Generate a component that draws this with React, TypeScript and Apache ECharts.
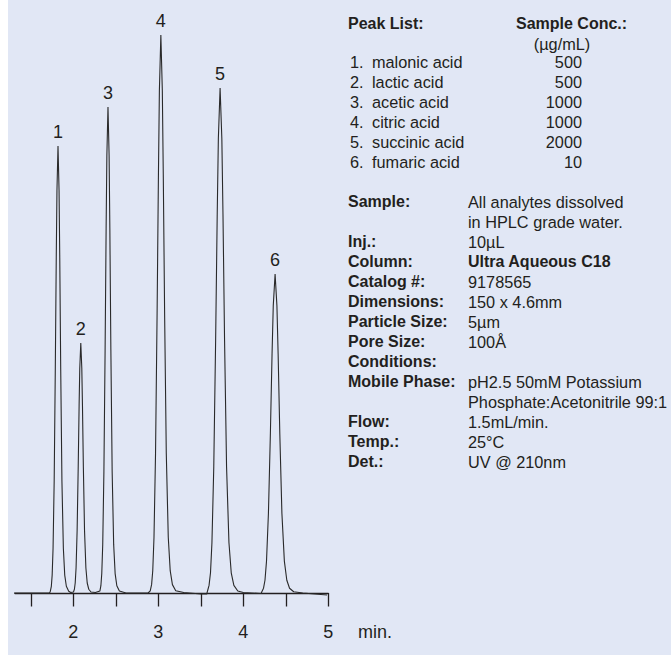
import React, { useEffect, useRef } from "react";
import * as echarts from "echarts";

// ---- Chromatogram data ----
// retention time (min) and apex response (arbitrary units) of each peak
const peakNumbers = ["1", "2", "3", "4", "5", "6"];
const peakTimes = [1.82, 2.088, 2.408, 3.03, 3.727, 4.374];
const peakHeights = [447, 250, 486, 558, 505, 319];
// fraction of apex height at which each peak's half-widths were read
const profileLevels = [0.9, 0.75, 0.5, 0.25, 0.1, 0.04, 0.015, 0.004];
// half-widths (min) on the leading (left) and tailing (right) side at those levels
const halfWidthsLeft = [
  [0.0124, 0.0206, 0.0319, 0.0451, 0.0582, 0.0688, 0.0785, 0.09],
  [0.0119, 0.0197, 0.0305, 0.0431, 0.0556, 0.0657, 0.0751, 0.086],
  [0.0132, 0.0219, 0.0339, 0.048, 0.0618, 0.0731, 0.0835, 0.0956],
  [0.0173, 0.0285, 0.0443, 0.0626, 0.0807, 0.0954, 0.109, 0.125],
  [0.0205, 0.0339, 0.0526, 0.0744, 0.0959, 0.113, 0.13, 0.148],
  [0.0216, 0.0357, 0.0554, 0.0784, 0.101, 0.119, 0.136, 0.156],
];
const halfWidthsRight = [
  [0.0124, 0.0206, 0.0319, 0.0461, 0.0629, 0.0791, 0.0981, 0.126],
  [0.0119, 0.0197, 0.0305, 0.044, 0.0601, 0.0756, 0.0938, 0.12],
  [0.0132, 0.0219, 0.0339, 0.049, 0.0668, 0.0841, 0.104, 0.134],
  [0.0173, 0.0285, 0.0443, 0.0639, 0.0872, 0.11, 0.136, 0.175],
  [0.0205, 0.0339, 0.0526, 0.076, 0.104, 0.131, 0.162, 0.208],
  [0.0216, 0.0357, 0.0554, 0.0801, 0.109, 0.138, 0.17, 0.219],
];
// baseline between the peaks (min, response)
const baselineTimes = [1.255, 1.5, 1.72, 1.97, 2.26, 2.62, 2.88, 3.3, 3.5, 3.57, 4.0, 4.21, 4.7, 4.985];
const baselineValues = [0, 0, 0, 0.5, 0.5, 0, 0, 0.5, -1, -1, 0.5, -0.5, 0, -2];

// axis
const tickValues = [1.5, 2, 2.5, 3, 3.5, 4, 4.5, 5];
const tickLabelValues = [2, 3, 4, 5];
const axisUnit = "min.";

// ---- Peak list ----
const peakListTitle = "Peak List:";
const concTitle = "Sample Conc.:";
const concUnit = "(µg/mL)";
const peakNumberLabels = ["1.", "2.", "3.", "4.", "5.", "6."];
const peakNames = ["malonic acid", "lactic acid", "acetic acid", "citric acid", "succinic acid", "fumaric acid"];
const peakConc = ["500", "500", "1000", "1000", "2000", "10"];

// ---- Conditions ----
const infoLabels = [
  "Sample:", "", "Inj.:", "Column:", "Catalog #:", "Dimensions:", "Particle Size:",
  "Pore Size:", "Conditions:", "Mobile Phase:", "", "Flow:", "Temp.:", "Det.:",
];
const infoValues = [
  "All analytes dissolved", "in HPLC grade water.", "10µL", "Ultra Aqueous C18", "9178565",
  "150 x 4.6mm", "5µm", "100Å", "", "pH2.5 50mM Potassium", "Phosphate:Acetonitrile 99:1",
  "1.5mL/min.", "25°C", "UV @ 210nm",
];
const boldValues = ["Ultra Aqueous C18"];

const FONT = "'Liberation Sans', Arial, Helvetica, sans-serif";
const INK = "#231f20";

function buildSignal(): number[][] {
  const pts: number[][] = [];
  baselineTimes.forEach((t, i) => pts.push([t, baselineValues[i]]));
  peakTimes.forEach((c, p) => {
    const h = peakHeights[p];
    for (let i = profileLevels.length - 1; i >= 0; i--) {
      pts.push([c - halfWidthsLeft[p][i], profileLevels[i] * h]);
    }
    pts.push([c, h]);
    for (let i = 0; i < profileLevels.length; i++) {
      pts.push([c + halfWidthsRight[p][i], profileLevels[i] * h]);
    }
  });
  pts.sort((a, b) => a[0] - b[0]);
  return pts;
}

function txt(text: string, x: number, y: number, opts: any = {}) {
  return {
    type: "text",
    x,
    y,
    silent: true,
    style: {
      text,
      fill: INK,
      fontFamily: FONT,
      fontSize: opts.size || 16.3,
      fontWeight: opts.bold ? "bold" : "normal",
      textAlign: opts.align || "left",
      textVerticalAlign: "middle",
      align: opts.align || "left",
      verticalAlign: "middle",
    },
  };
}

export default function App() {
  const ref = useRef<HTMLDivElement>(null);

  useEffect(() => {
    if (!ref.current) return;
    const chart = echarts.init(ref.current, undefined, { renderer: "svg" });

    const graphics: any[] = [];
    // peak list header
    graphics.push(txt(peakListTitle, 348, 23, { bold: true, size: 16 }));
    graphics.push(txt(concTitle, 516, 23, { bold: true, size: 16 }));
    graphics.push(txt(concUnit, 562, 44, { align: "center" }));
    peakNames.forEach((n, i) => {
      const y = 62 + 20 * i;
      graphics.push(txt(peakNumberLabels[i], 350, y));
      graphics.push(txt(n, 372, y));
      graphics.push(txt(peakConc[i], 582, y, { align: "right" }));
    });
    infoLabels.forEach((l, i) => {
      const y = 201.7 + 20 * i;
      if (l) graphics.push(txt(l, 348, y, { bold: true, size: 16 }));
      const v = infoValues[i];
      if (v) {
        const b = boldValues.indexOf(v) >= 0;
        graphics.push(txt(v, 468, y, b ? { bold: true, size: 16 } : {}));
      }
    });
    graphics.push(txt(axisUnit, 358, 632, { size: 18 }));

    chart.setOption({
      animation: false,
      backgroundColor: "transparent",
      grid: { left: 15, right: 342.7, top: 33, bottom: 52.5, containLabel: false, outerBoundsMode: "none" },
      xAxis: {
        type: "value",
        min: 1.314,
        max: 5,
        axisLine: { show: true, lineStyle: { color: INK, width: 1.3 } },
        axisTick: {
          show: true,
          inside: false,
          length: 13.5,
          customValues: tickValues,
          lineStyle: { color: INK, width: 1.3 },
        },
        axisLabel: {
          customValues: tickLabelValues,
          margin: 19,
          fontSize: 18,
          fontFamily: FONT,
          color: INK,
        },
        splitLine: { show: false },
      },
      yAxis: {
        type: "value",
        min: -10.5,
        max: 560,
        show: false,
        splitLine: { show: false },
      },
      series: [
        {
          type: "line",
          data: buildSignal(),
          symbol: "none",
          showSymbol: false,
          clip: false,
          silent: true,
          lineStyle: { color: "#2a2a2a", width: 1.1 },
          z: 3,
        },
        {
          type: "scatter",
          data: peakTimes.map((t, i) => ({ value: [t, peakHeights[i]], name: peakNumbers[i] })),
          symbolSize: 0,
          silent: true,
          itemStyle: { opacity: 1, color: INK },
          label: {
            show: true,
            position: "top",
            distance: 5,
            formatter: "{b}",
            fontSize: 18,
            fontFamily: FONT,
            color: INK,
            opacity: 1,
          },
          z: 4,
        },
      ],
      graphic: graphics,
    });

    return () => chart.dispose();
  }, []);

  return (
    <div style={{ position: "fixed", left: 0, top: 0, width: 671, height: 656, background: "#ffffff" }}>
      <div style={{ position: "absolute", left: 8, top: 0, width: 663, height: 655, background: "#e1e7f5" }} />
      <div ref={ref} style={{ position: "absolute", left: 0, top: 0, width: 671, height: 656 }} />
    </div>
  );
}
